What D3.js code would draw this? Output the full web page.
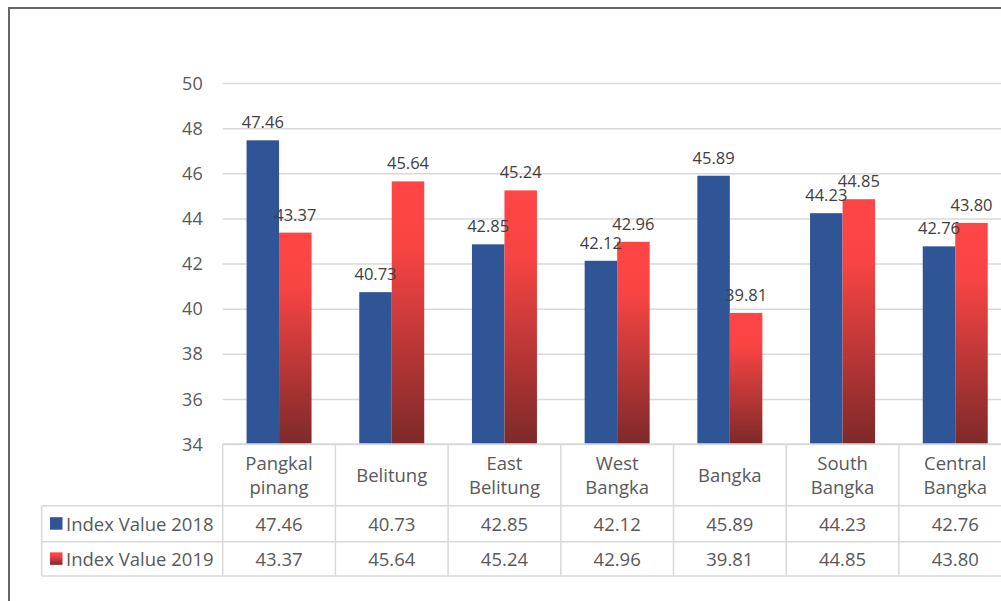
<!DOCTYPE html>
<html>
<head>
<meta charset="utf-8">
<script src="https://cdn.jsdelivr.net/npm/d3@7/dist/d3.min.js"></script>
<style>
  html, body { margin: 0; padding: 0; background: #fff; }
  svg { display: block; font-family: "Open Sans", "Noto Sans", sans-serif; }
</style>
</head>
<body>
<svg id="chart" width="1001" height="601"></svg>
<script>
// Regional index values per district/city
const categories = [
  ["Pangkal", "pinang"],
  ["Belitung"],
  ["East", "Belitung"],
  ["West", "Bangka"],
  ["Bangka"],
  ["South", "Bangka"],
  ["Central", "Bangka"]
];
const seriesNames = ["Index Value 2018", "Index Value 2019"];
const values2018 = [47.46, 40.73, 42.85, 42.12, 45.89, 44.23, 42.76];
const values2019 = [43.37, 45.64, 45.24, 42.96, 39.81, 44.85, 43.80];
const yTicks = [34, 36, 38, 40, 42, 44, 46, 48, 50];

const svg = d3.select("#chart");
const catKeys = categories.map(c => c.join(" "));
const seriesValues = [values2018, values2019];

// Layout
const plotLeft = 222.7, plotRight = 1011.6;
const plotTop = 83, plotBottom = 444;
const headerBottom = 505.7, row1Bottom = 541.7, row2Bottom = 576;
const tableLeft = 41.7;
const gridColor = "#d9d9d9";
const textColor = "#595959";

// Outer frame
svg.append("rect")
  .attr("x", 9).attr("y", 8)
  .attr("width", 1100).attr("height", 700)
  .attr("fill", "none").attr("stroke", "#666").attr("stroke-width", 2);

// Scales
const x = d3.scaleBand().domain(catKeys).range([plotLeft, plotRight]).padding(0);
const xs = d3.scaleBand().domain(seriesNames).range([0, x.bandwidth()])
  .paddingInner(0).paddingOuter(0.734);
const y = d3.scaleLinear().domain([34, 50]).range([plotBottom, plotTop]);

// Gradient for 2019 series
const defs = svg.append("defs");
const grad = defs.append("linearGradient").attr("id", "redGrad")
  .attr("x1", 0).attr("y1", 0).attr("x2", 0).attr("y2", 1);
grad.append("stop").attr("offset", "0%").attr("stop-color", "#ff4545");
grad.append("stop").attr("offset", "25%").attr("stop-color", "#f94444");
grad.append("stop").attr("offset", "100%").attr("stop-color", "#7e2929");
const fills = ["#2f5597", "url(#redGrad)"];

// Gridlines and y tick labels
const yAxis = d3.axisLeft(y).tickValues(yTicks)
  .tickSize(-(plotRight - plotLeft)).tickPadding(20).tickFormat(d3.format("d"));
const gy = svg.append("g").attr("transform", `translate(${plotLeft},0)`).call(yAxis);
gy.select(".domain").remove();
gy.selectAll(".tick line").attr("stroke", gridColor).attr("stroke-width", 1.5);
gy.selectAll(".tick text")
  .attr("fill", textColor).style("font-size", "18px")
  .attr("font-family", "Open Sans").attr("dy", "0.34em");

// Bars
const groups = svg.append("g").selectAll("g")
  .data(catKeys).join("g")
  .attr("transform", d => `translate(${x(d)},0)`);

groups.selectAll("rect")
  .data((d, i) => seriesNames.map((s, j) => ({ s, j, v: seriesValues[j][i] })))
  .join("rect")
  .attr("x", d => xs(d.s))
  .attr("width", xs.bandwidth())
  .attr("y", d => y(d.v))
  .attr("height", d => y(34) - y(d.v))
  .attr("fill", d => fills[d.j]);

// Value labels
groups.selectAll("text.val")
  .data((d, i) => seriesNames.map((s, j) => ({ s, j, v: seriesValues[j][i] })))
  .join("text").attr("class", "val")
  .attr("x", d => xs(d.s) + xs.bandwidth() / 2)
  .attr("y", d => y(d.v) - 12)
  .attr("text-anchor", "middle")
  .attr("fill", "#404040").style("font-size", "16.5px")
  .text(d => d.v.toFixed(2));

// Data table
const table = svg.append("g");
const lineAttrs = sel => sel.attr("stroke", gridColor).attr("stroke-width", 1.5);

// horizontal rules
[[plotLeft, plotBottom], [tableLeft, headerBottom], [tableLeft, row1Bottom], [tableLeft, row2Bottom]]
  .forEach(([x0, yy]) => {
    table.append("line").attr("x1", x0).attr("x2", plotRight)
      .attr("y1", yy).attr("y2", yy).call(lineAttrs);
  });
// vertical rules
catKeys.forEach(k => {
  table.append("line").attr("x1", x(k)).attr("x2", x(k))
    .attr("y1", plotBottom).attr("y2", row2Bottom).call(lineAttrs);
});
table.append("line").attr("x1", plotRight).attr("x2", plotRight)
  .attr("y1", plotBottom).attr("y2", row2Bottom).call(lineAttrs);
table.append("line").attr("x1", tableLeft).attr("x2", tableLeft)
  .attr("y1", headerBottom).attr("y2", row2Bottom).call(lineAttrs);

// category header text
const headerMid = (plotBottom + headerBottom) / 2;
categories.forEach((lines, i) => {
  const t = table.append("text")
    .attr("x", x(catKeys[i]) + x.bandwidth() / 2)
    .attr("text-anchor", "middle")
    .attr("fill", textColor).style("font-size", "18.5px");
  const lh = 24;
  const y0 = headerMid + 6.8 - (lines.length - 1) * lh / 2;
  lines.forEach((ln, k) => {
    t.append("tspan").attr("x", x(catKeys[i]) + x.bandwidth() / 2)
      .attr("y", y0 + k * lh).text(ln);
  });
});

// series rows
const rowMids = [(headerBottom + row1Bottom) / 2, (row1Bottom + row2Bottom) / 2];
seriesNames.forEach((s, j) => {
  const cy = rowMids[j];
  table.append("rect").attr("x", 50).attr("y", cy - 6.5)
    .attr("width", 12.5).attr("height", 12.5).attr("fill", fills[j]);
  table.append("text").attr("x", 66).attr("y", cy + 6.8)
    .attr("fill", textColor).style("font-size", "18.5px").text(s);
  catKeys.forEach((k, i) => {
    table.append("text")
      .attr("x", x(k) + x.bandwidth() / 2).attr("y", cy + 6.8)
      .attr("text-anchor", "middle")
      .attr("fill", textColor).style("font-size", "18.5px")
      .text(seriesValues[j][i].toFixed(2));
  });
});
</script>
</body>
</html>
